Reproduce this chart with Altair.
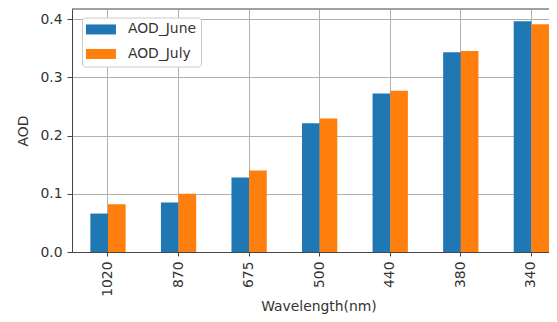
import altair as alt
import pandas as pd

wavelengths = ["1020", "870", "675", "500", "440", "380", "340"]
aod_june = [0.066, 0.085, 0.128, 0.221, 0.272, 0.343, 0.396]
aod_july = [0.082, 0.100, 0.140, 0.229, 0.277, 0.345, 0.391]
series_names = ["AOD_June", "AOD_July"]
series_colors = ["#1f77b4", "#ff7f0e"]
y_ticks = [0.0, 0.1, 0.2, 0.3, 0.4]

rows = []
for w, j, k in zip(wavelengths, aod_june, aod_july):
    rows.append({"wavelength": w, "series": series_names[0], "aod": j})
    rows.append({"wavelength": w, "series": series_names[1], "aod": k})
df = pd.DataFrame(rows)

FONT = "DejaVu Sans"
FS = 13.9
TXT = "#333333"
SPINE = "#444444"
RECT = "M-3,-1H3V1H-3Z"
W, H = 477, 243

bars = (
    alt.Chart(df)
    .mark_bar()
    .encode(
        x=alt.X(
            "wavelength:N",
            sort=wavelengths,
            scale=alt.Scale(paddingInner=0.5, paddingOuter=0.13, align=1),
            axis=alt.Axis(
                title="Wavelength(nm)",
                labelAngle=270,
                labelAlign="right",
                labelBaseline="middle",
                labelPadding=5,
                tickSize=4,
                grid=True,
                titleX=246.5,
                titleY=58,
                titleBaseline="alphabetic",
            ),
        ),
        xOffset=alt.XOffset(
            "series:N",
            sort=series_names,
            scale=alt.Scale(paddingInner=0, paddingOuter=0),
        ),
        y=alt.Y(
            "aod:Q",
            scale=alt.Scale(domain=[0, 0.4172], nice=False, zero=True),
            axis=alt.Axis(
                title="AOD",
                values=y_ticks,
                format=".1f",
                tickSize=5,
                labelPadding=5,
                grid=True,
                titlePadding=9,
            ),
        ),
        color=alt.Color(
            "series:N",
            sort=series_names,
            scale=alt.Scale(domain=series_names, range=series_colors),
            legend=alt.Legend(
                title=None,
                orient="none",
                legendX=10,
                legendY=8.5,
                symbolType=RECT,
                symbolSize=100,
                symbolOffset=7,
                symbolStrokeWidth=0,
                symbolOpacity=1,
                labelOffset=20,
                rowPadding=9.5,
                padding=5,
                strokeColor="#cccccc",
                fillColor="#ffffff",
                cornerRadius=3,
                labelFont=FONT,
                labelFontSize=FS,
                labelColor=TXT,
            ),
        ),
    )
)

top_spine = (
    alt.Chart(pd.DataFrame({"spine": [0]}))
    .mark_rule(color=SPINE, strokeWidth=1)
    .encode(x=alt.value(0), x2=alt.value(W), y=alt.value(0))
)

chart = (
    alt.layer(bars, top_spine)
    .properties(
        width=W,
        height=H,
        autosize=alt.AutoSizeParams(type="none"),
        padding={"left": 64, "top": 1, "right": 0, "bottom": 62},
    )
    .configure_view(stroke=None)
    .configure_axis(
        labelFont=FONT,
        labelFontSize=FS,
        labelColor=TXT,
        titleFont=FONT,
        titleFontSize=FS,
        titleColor=TXT,
        titleFontWeight="normal",
        domainColor=SPINE,
        tickColor=SPINE,
        gridColor="#b0b0b0",
        gridWidth=1,
    )
)

chart.save("out.html", embed_options={"renderer": "svg", "actions": False})
